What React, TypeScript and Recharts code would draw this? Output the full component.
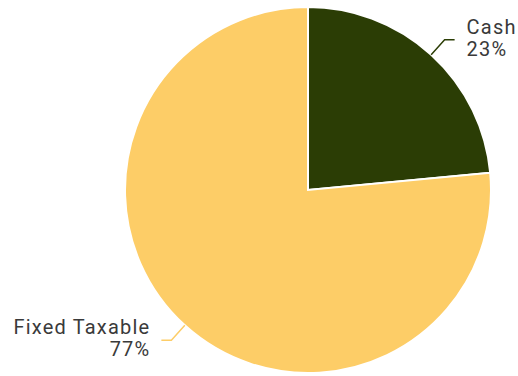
import React from "react";
import { PieChart, Pie, Cell } from "recharts";

const categories = ["Cash", "Fixed Taxable"];
const values = [23.5, 76.5];
const percentLabels = ["23%", "77%"];
const colors = ["#2b3d05", "#fdcd67"];

const data = categories.map((name, i) => ({ name, value: values[i], pct: percentLabels[i] }));
const RAD = Math.PI / 180;

const renderLine = (props: any) => {
  const { cx, cy, midAngle, outerRadius, index } = props;
  const c = Math.cos(midAngle * RAD);
  const s = Math.sin(midAngle * RAD);
  const x1 = cx + outerRadius * c;
  const y1 = cy - outerRadius * s;
  const x2 = cx + (outerRadius + 20) * c;
  const y2 = cy - (outerRadius + 20) * s;
  const x3 = x2 + (c >= 0 ? 10 : -10);
  return (
    <path
      d={`M${x1},${y1}L${x2},${y2}L${x3},${y2}`}
      stroke={colors[index]}
      strokeWidth={1.5}
      fill="none"
    />
  );
};

const renderLabel = (props: any) => {
  const { cx, cy, midAngle, outerRadius, name, index } = props;
  const c = Math.cos(midAngle * RAD);
  const s = Math.sin(midAngle * RAD);
  const x2 = cx + (outerRadius + 20) * c;
  const y2 = cy - (outerRadius + 20) * s;
  const right = c >= 0;
  const x = x2 + (right ? 22 : -21);
  return (
    <text
      x={x}
      y={y2}
      textAnchor={right ? "start" : "end"}
      fill="#3a3a3a"
      fontSize={20}
      letterSpacing={1.2}
      fontFamily="Roboto, 'Noto Sans', sans-serif"
    >
      <tspan x={x} dy={-6}>{name}</tspan>
      <tspan x={x} dy={22}>{percentLabels[index]}</tspan>
    </text>
  );
};

export default function App() {
  return (
    <div style={{ position: "absolute", left: 0, top: 0, width: 518, height: 376 }}>
      <PieChart width={518} height={376} margin={{ top: 0, right: 0, bottom: 0, left: 0 }}>
        <Pie
          data={data}
          dataKey="value"
          nameKey="name"
          cx={308}
          cy={190}
          outerRadius={183}
          startAngle={90}
          endAngle={-270}
          stroke="#ffffff"
          strokeWidth={2}
          isAnimationActive={false}
          label={renderLabel}
          labelLine={renderLine}
        >
          {data.map((d, i) => (
            <Cell key={d.name} fill={colors[i]} />
          ))}
        </Pie>
      </PieChart>
    </div>
  );
}
